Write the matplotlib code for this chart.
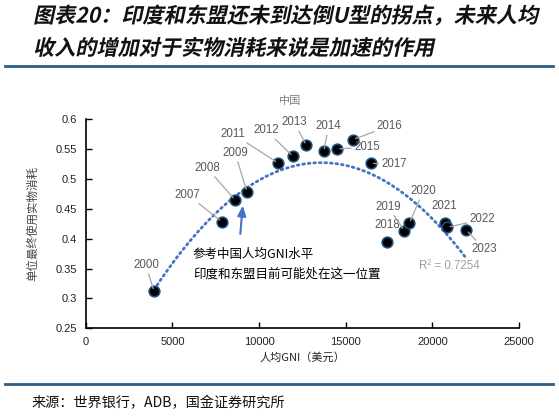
import numpy as np
import matplotlib
matplotlib.use("Agg")
import matplotlib.pyplot as plt
from matplotlib.patheffects import AbstractPathEffect
from matplotlib.transforms import Affine2D
from matplotlib.lines import Line2D

# ---------------- data ----------------
years = [2000, 2007, 2008, 2009, 2011, 2012, 2013, 2014, 2015, 2016,
         2017, 2018, 2019, 2020, 2021, 2022, 2023]
gni_per_capita = [3940, 7850, 8620, 9310, 11100, 11960, 12730, 13730, 14500,
                  15410, 16450, 17400, 18380, 18670, 20730, 20870, 21960]
material_intensity = [0.312, 0.4285, 0.4648, 0.4782, 0.5268, 0.538, 0.5564,
                      0.5464, 0.5502, 0.5658, 0.5263, 0.394, 0.4134, 0.4258,
                      0.4258, 0.4191, 0.4146]
x_ticks = [0, 5000, 10000, 15000, 20000, 25000]
y_ticks = [0.25, 0.3, 0.35, 0.4, 0.45, 0.5, 0.55, 0.6]
r2_text = "R² = 0.7254"

title_lines = ["图表20：印度和东盟还未到达倒U型的拐点，未来人均",
               "收入的增加对于实物消耗来说是加速的作用"]
chart_name = "中国"
x_label = "人均GNI（美元）"
y_label = "单位最终使用实物消耗"
note_text = "参考中国人均GNI水平\n印度和东盟目前可能处在这一位置"
source_text = "来源：世界银行，ADB，国金证券研究所"

# ---------------- layout (label offsets in pixels) ----------------
label_offsets = {2000: (-8, 26), 2007: (-34, 27), 2008: (-28, 32), 2009: (-12, 39),
                 2011: (-45, 29), 2012: (-27, 26), 2013: (-12, 23), 2014: (5, 25),
                 2015: (30, 2), 2016: (37, 14), 2017: (23, -1), 2018: (0, 17),
                 2019: (-16, 24), 2020: (14, 32), 2021: (-1, 17), 2022: (35, 8),
                 2023: (18, -19)}
no_leader = {2018, 2021}

CJK = ['Noto Sans CJK SC', 'DejaVu Sans']
LAT = ['Liberation Sans', 'DejaVu Sans']


class Skew(AbstractPathEffect):
    def __init__(self, deg=12):
        super().__init__()
        self.deg = deg

    def draw_path(self, renderer, gc, tpath, affine, rgbFace=None):
        renderer.draw_path(gc, tpath, Affine2D().skew_deg(self.deg, 0) + affine, rgbFace)


W, H = 559, 416
fig = plt.figure(figsize=(W / 100, H / 100), dpi=100)
fig.patch.set_facecolor('white')

def fx(px):
    return px / W

def fy(py):
    return 1 - py / H

# title
for i, line in enumerate(title_lines):
    fig.text(fx(33), fy(16 + 32.5 * i), line, family=CJK, fontsize=15.2,
             fontweight='bold', color='#111111', ha='left', va='center',
             path_effects=[Skew(12)])

rule_color = '#2C5D84'
fig.add_artist(Line2D([fx(5), fx(553)], [fy(66), fy(66)], color=rule_color, lw=2))
fig.add_artist(Line2D([fx(5), fx(553)], [fy(383.5), fy(383.5)], color=rule_color, lw=2))
fig.text(fx(32), fy(403.5), source_text, family=CJK, fontsize=10.2,
         color='#111111', ha='left', va='center')

fig.text(fx(290), fy(101), chart_name, family=CJK, fontsize=8, color='#7F7F7F',
         ha='center', va='center')

ax = fig.add_axes([fx(85.7), fy(328.3), (519 - 85.7) / W, (328.3 - 119.3) / H])
ax.set_xlim(0, 25000)
ax.set_ylim(0.25, 0.6)
ax.set_xticks(x_ticks)
ax.set_yticks(y_ticks)
ax.set_xticklabels([str(v) for v in x_ticks], family=LAT, fontsize=8, color='#222222')
ax.set_yticklabels([f"{v:g}" for v in y_ticks], family=LAT, fontsize=8, color='#222222')
ax.tick_params(direction='in', length=4, width=1, color='black', pad=6)
for s in ['top', 'right']:
    ax.spines[s].set_visible(False)
for s in ['left', 'bottom']:
    ax.spines[s].set_linewidth(1.2)
    ax.spines[s].set_color('black')

ax.set_xlabel(x_label, family=CJK, fontsize=8, color='#222222', labelpad=4)
ax.set_ylabel(y_label, family=CJK, fontsize=8.3, color='#444444', labelpad=12)

# trendline (2nd order polynomial fit)
coef = np.polyfit(gni_per_capita, material_intensity, 2)
xt = np.linspace(min(gni_per_capita), max(gni_per_capita), 200)
ax.plot(xt, np.polyval(coef, xt), color='#4472C4', lw=2,
        linestyle=(0, (0.6, 1.4)), dash_capstyle='round', zorder=2)

ax.scatter(gni_per_capita, material_intensity, s=58, c='black',
           edgecolors='#1F4E79', linewidths=1.2, zorder=4)

for yr, x, y in zip(years, gni_per_capita, material_intensity):
    dx, dy = label_offsets[yr]
    kw = {}
    if yr not in no_leader:
        kw['arrowprops'] = dict(arrowstyle='-', color='#A6A6A6', lw=0.9,
                                shrinkA=0, shrinkB=2)
    ax.annotate(str(yr), (x, y), xytext=(dx, dy), textcoords='offset pixels',
                ha='center', va='center', family=LAT, fontsize=8.3,
                color='#595959', zorder=5, **kw)

ax.text(21000, 0.3545, r2_text, family=LAT, fontsize=8.3, color='#A0A0A0',
        ha='center', va='center')

# note + arrow
ax.annotate('', xy=(9060, 0.4555), xytext=(8920, 0.408),
            arrowprops=dict(arrowstyle='-|>,head_length=0.6,head_width=0.25',
                            color='#4472C4', lw=1.5, shrinkA=0, shrinkB=0))
ax.text(6190, 0.3575, note_text, family=CJK, fontsize=9, color='black',
        ha='left', va='center', linespacing=1.6)

fig.savefig('out.png', dpi=100, facecolor='white')
